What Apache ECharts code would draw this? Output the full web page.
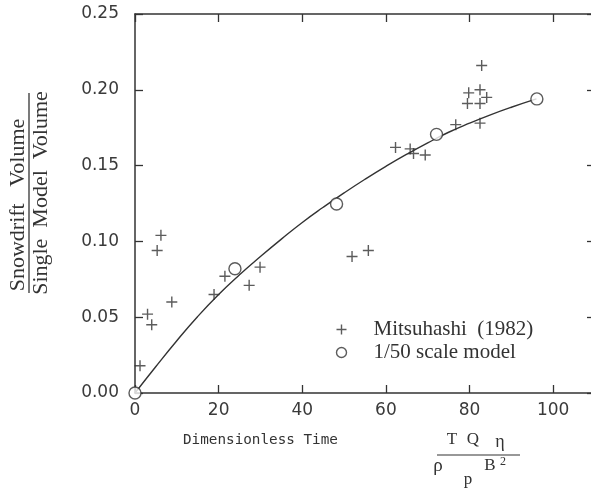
<!DOCTYPE html>
<html>
<head>
<meta charset="utf-8">
<script src="https://cdn.jsdelivr.net/npm/echarts@6/dist/echarts.min.js"></script>
<style>
html,body{margin:0;padding:0;background:#fff;}
#chart{width:591px;height:489px;}
</style>
</head>
<body>
<div id="chart"></div>
<script>
// Data
const mitsuhashiX = [1.2, 3.0, 4.0, 5.3, 6.2, 8.8, 18.9, 21.5, 27.3, 29.9, 51.9, 55.8, 62.3, 65.8, 66.6, 69.4, 76.7, 79.5, 79.8, 82.5, 82.5, 82.5, 82.9, 84.1];
const mitsuhashiY = [0.018, 0.052, 0.045, 0.094, 0.104, 0.060, 0.065, 0.077, 0.071, 0.083, 0.090, 0.094, 0.162, 0.161, 0.158, 0.157, 0.177, 0.191, 0.198, 0.200, 0.191, 0.178, 0.216, 0.195];
const modelX = [0, 23.9, 48.2, 72.1, 96.1];
const modelY = [0, 0.082, 0.1247, 0.1706, 0.194];
const curveX = [0, 5, 10, 15, 20, 25, 30, 35, 40, 45, 50, 55, 60, 65, 70, 75, 80, 85, 90, 96];
const curveY = [0, 0.0175, 0.0345, 0.0505, 0.065, 0.078, 0.090, 0.1015, 0.1125, 0.1225, 0.132, 0.141, 0.1495, 0.1575, 0.165, 0.172, 0.178, 0.1835, 0.1885, 0.194];
const seriesNames = ['Mitsuhashi (1982)', '1/50 scale model'];
const xTitle = 'Dimensionless Time';
const yTitleTop = 'Snowdrift   Volume';
const yTitleBottom = 'Single  Model  Volume';

const INK = '#333';
const plusPath = 'path://M5,0L5,10M0,5L10,5';
const zip = (a, b) => a.map((v, i) => [v, b[i]]);

const chart = echarts.init(document.getElementById('chart'), null, {renderer: 'canvas'});
const tickFont = {fontFamily: 'DejaVu Sans', fontSize: 17, color: '#3a3a3a'};
const serif = 'Liberation Serif';
const frameAxis = (extra) => Object.assign({
  type: 'value',
  axisLine: {show: true, onZero: false, lineStyle: {color: INK, width: 1.5}},
  axisTick: {show: true, inside: true, length: 8, lineStyle: {color: INK, width: 1.3}},
  splitLine: {show: false}
}, extra);

const legendLabel = (name) => name.replace(' (', '  (');

const option = {
  backgroundColor: '#fff',
  animation: false,
  grid: {left: 135, top: 14, right: -4, bottom: 96, containLabel: false, outerBoundsMode: 'none'},
  xAxis: [
    frameAxis({min: 0, max: 110, interval: 20, position: 'bottom',
      axisLabel: Object.assign({margin: 9, showMaxLabel: false}, tickFont)}),
    frameAxis({min: 0, max: 110, interval: 20, position: 'top', axisLabel: {show: false}})
  ],
  yAxis: [
    frameAxis({min: 0, max: 0.25, interval: 0.05, position: 'left',
      axisLabel: Object.assign({margin: 16, formatter: v => v.toFixed(2)}, tickFont)}),
    frameAxis({min: 0, max: 0.25, interval: 0.05, position: 'right', axisLabel: {show: false}})
  ],
  legend: {
    left: 334, top: 319, padding: 0, orient: 'vertical', itemWidth: 10, itemHeight: 12, itemGap: 2,
    formatter: legendLabel,
    textStyle: {fontFamily: serif, fontSize: 21, color: '#333', padding: [0, 0, 0, 22]},
    data: [
      {name: seriesNames[0], icon: plusPath, itemStyle: {color: 'none', borderColor: INK, borderWidth: 1.4}},
      {name: seriesNames[1], icon: 'circle', itemStyle: {color: '#fff', borderColor: INK, borderWidth: 1.4}}
    ]
  },
  series: [
    {name: 'fit', type: 'line', data: zip(curveX, curveY), smooth: 0.5, showSymbol: false, symbol: 'none',
     lineStyle: {color: INK, width: 1.4}, z: 2, silent: true},
    {name: seriesNames[0], type: 'scatter', data: zip(mitsuhashiX, mitsuhashiY), symbol: plusPath, symbolSize: 11,
     itemStyle: {color: 'none', borderColor: INK, borderWidth: 1.4}, z: 3},
    {name: seriesNames[1], type: 'scatter', data: zip(modelX, modelY), symbol: 'circle', symbolSize: 12,
     itemStyle: {color: '#fff', borderColor: INK, borderWidth: 1.4}, z: 4}
  ],
  graphic: [
    {type: 'text', x: 18, y: 205, rotation: Math.PI / 2,
     style: {text: yTitleTop, font: '22px "' + serif + '"', fill: '#333', textAlign: 'center', textVerticalAlign: 'middle'}},
    {type: 'line', shape: {x1: 29, y1: 93, x2: 29, y2: 293}, style: {stroke: '#333', lineWidth: 1.3}},
    {type: 'text', x: 41, y: 193, rotation: Math.PI / 2,
     style: {text: yTitleBottom, font: '22px "' + serif + '"', fill: '#333', textAlign: 'center', textVerticalAlign: 'middle'}},
    {type: 'text', x: 183, y: 440,
     style: {text: xTitle, font: '14.3px "DejaVu Sans Mono"', fill: '#333', textAlign: 'left', textVerticalAlign: 'middle'}},
    {type: 'text', x: 452, y: 440,
     style: {text: 'T', font: '17px "' + serif + '"', fill: '#333', textAlign: 'center', textVerticalAlign: 'middle'}},
    {type: 'text', x: 473, y: 440,
     style: {text: 'Q', font: '17px "' + serif + '"', fill: '#333', textAlign: 'center', textVerticalAlign: 'middle'}},
    {type: 'text', x: 500, y: 442,
     style: {text: '\u03b7', font: '18px "' + serif + '"', fill: '#333', textAlign: 'center', textVerticalAlign: 'middle'}},
    {type: 'line', shape: {x1: 437, y1: 455, x2: 520, y2: 455}, style: {stroke: '#333', lineWidth: 1.2}},
    {type: 'text', x: 438, y: 466,
     style: {text: '\u03c1', font: '19px "' + serif + '"', fill: '#333', textAlign: 'center', textVerticalAlign: 'middle'}},
    {type: 'text', x: 468, y: 480,
     style: {text: 'p', font: '17px "' + serif + '"', fill: '#333', textAlign: 'center', textVerticalAlign: 'middle'}},
    {type: 'text', x: 490, y: 466,
     style: {text: 'B', font: '17px "' + serif + '"', fill: '#333', textAlign: 'center', textVerticalAlign: 'middle'}},
    {type: 'text', x: 503, y: 462,
     style: {text: '2', font: '12px "' + serif + '"', fill: '#333', textAlign: 'center', textVerticalAlign: 'middle'}}
  ]
};
chart.setOption(option);
</script>
</body>
</html>
